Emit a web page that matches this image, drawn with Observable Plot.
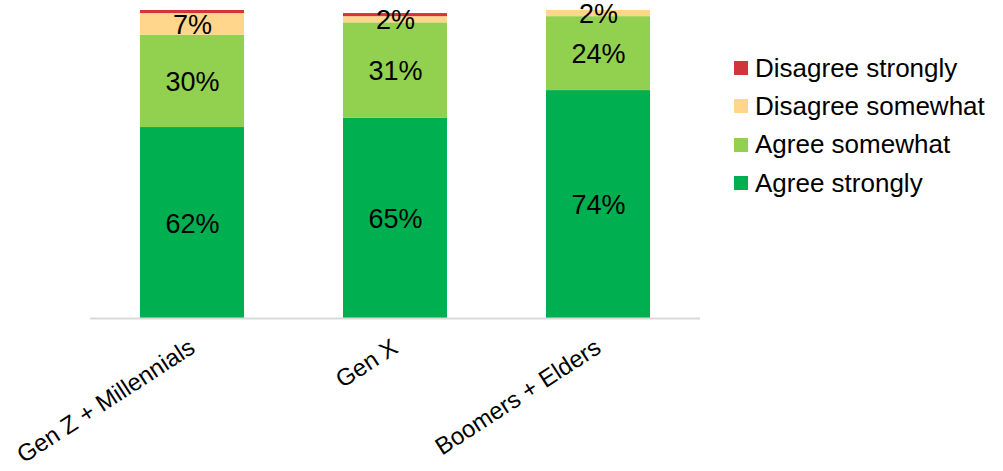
<!DOCTYPE html>
<html>
<head>
<meta charset="utf-8">
<script src="https://cdn.jsdelivr.net/npm/d3@7"></script>
<script src="https://cdn.jsdelivr.net/npm/@observablehq/plot@0.6"></script>
<style>
  html, body { margin: 0; padding: 0; background: #fff; }
  #wrap { position: relative; width: 1003px; height: 471px; font-family: "Liberation Sans", Arial, sans-serif; }
  #wrap svg { overflow: visible; }
  #legend { position: absolute; left: 734px; top: 49px; }
  .item { display: flex; align-items: center; height: 38.3px; font-size: 26px; color: #000; }
  .sw { width: 14px; height: 14px; margin-right: 7px; flex: none; }
</style>
</head>
<body>
<div id="wrap"><div id="legend"></div></div>
<script>
const categories = ["Gen Z + Millennials", "Gen X", "Boomers + Elders"];
const series = ["Agree strongly", "Agree somewhat", "Disagree somewhat", "Disagree strongly"];
const colors = ["#00b050", "#92d050", "#ffd68b", "#d2343b"];
const agreeStrongly = [62, 65, 74];
const agreeSomewhat = [30, 31, 24];
const disagreeSomewhat = [7, 2, 2];
const disagreeStrongly = [1, 1, 0];
const legendOrder = ["Disagree strongly", "Disagree somewhat", "Agree somewhat", "Agree strongly"];

const valuesBySeries = [agreeStrongly, agreeSomewhat, disagreeSomewhat, disagreeStrongly];
const data = [];
series.forEach((s, si) => {
  categories.forEach((c, ci) => {
    data.push({category: c, series: s, value: valuesBySeries[si][ci]});
  });
});
const labelled = data.filter(d => d.series !== "Disagree strongly" && d.value > 0);

const chart = Plot.plot({
  width: 1003,
  height: 471,
  marginLeft: 90,
  marginRight: 303,
  marginTop: 10,
  marginBottom: 153,
  style: {fontFamily: "'Liberation Sans', Arial, sans-serif", background: "#fff", overflow: "visible"},
  x: {domain: categories, paddingInner: 0.49, paddingOuter: 0.245, axis: null},
  y: {domain: [0, 100], axis: null},
  color: {domain: series, range: colors},
  marks: [
    Plot.barY(data, Plot.stackY({x: "category", y: "value", fill: "series", order: series})),
    Plot.ruleY([0], {stroke: "#d9d9d9", strokeWidth: 2}),
    Plot.text(labelled, Plot.stackY({x: "category", y: "value", z: "series", order: series,
      text: d => d.value + "%", fontSize: 27, fill: "#000", dy: 1})),
    Plot.text(categories, {x: d => d, y: 0, text: d => d, rotate: -33, textAnchor: "end",
      lineAnchor: "bottom", dy: 33, dx: 4, fontSize: 24, fill: "#000"})
  ]
});
document.getElementById("wrap").prepend(chart);

const legend = document.getElementById("legend");
legendOrder.forEach(s => {
  const it = document.createElement("div");
  it.className = "item";
  const sw = document.createElement("div");
  sw.className = "sw";
  sw.style.background = colors[series.indexOf(s)];
  const t = document.createElement("span");
  t.textContent = s;
  it.appendChild(sw);
  it.appendChild(t);
  legend.appendChild(it);
});
</script>
</body>
</html>
